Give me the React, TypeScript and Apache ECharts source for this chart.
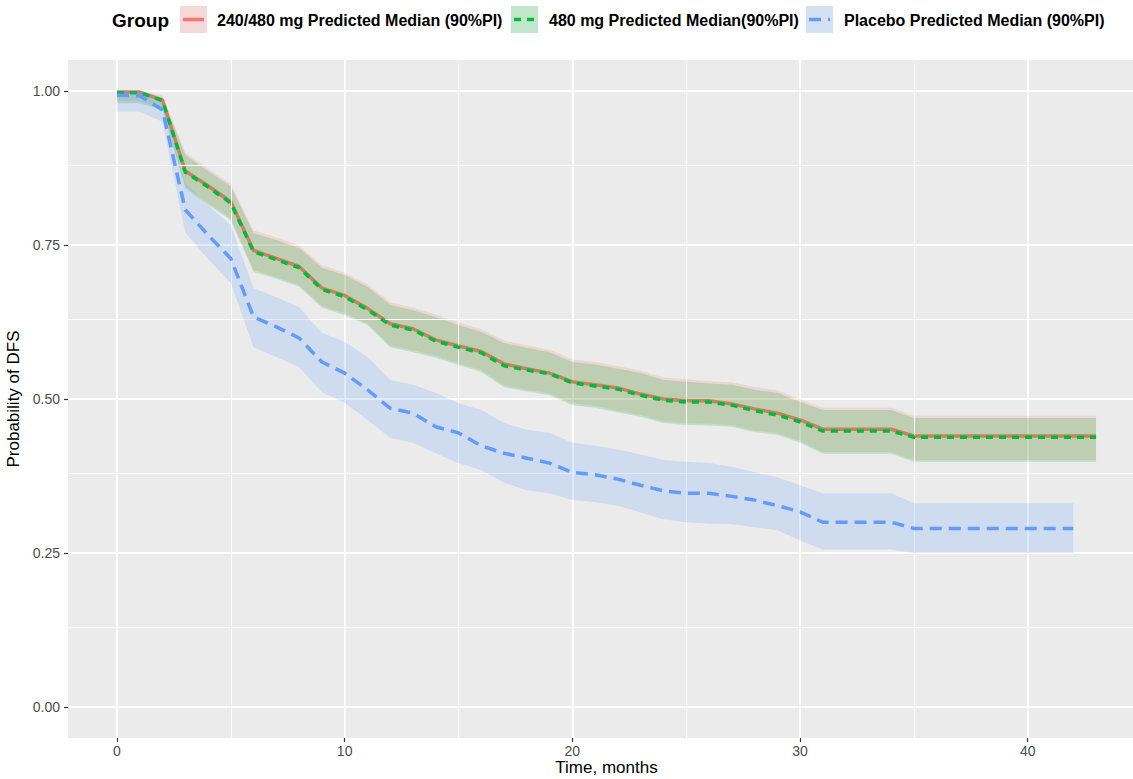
import React, { useEffect, useRef } from "react";
import * as echarts from "echarts";

// ---------- data ----------
const monthsTreat = [0, 1, 2, 3, 4, 5, 6, 7, 8, 9, 10, 11, 12, 13, 14, 15, 16, 17, 18, 19, 20, 21, 22, 23, 24, 25, 26, 27, 28, 29, 30, 31, 32, 33, 34, 35, 36, 37, 38, 39, 40, 41, 42, 43];
const monthsPlacebo = [0, 1, 2, 3, 4, 5, 6, 7, 8, 9, 10, 11, 12, 13, 14, 15, 16, 17, 18, 19, 20, 21, 22, 23, 24, 25, 26, 27, 28, 29, 30, 31, 32, 33, 34, 35, 36, 37, 38, 39, 40, 41, 42];

// 240/480 mg
const comboMedian = [0.998, 0.998, 0.985, 0.870, 0.846, 0.820, 0.741, 0.728, 0.715, 0.680, 0.668, 0.647, 0.622, 0.614, 0.596, 0.586, 0.577, 0.557, 0.549, 0.542, 0.528, 0.523, 0.518, 0.508, 0.500, 0.497, 0.497, 0.492, 0.484, 0.477, 0.466, 0.451, 0.451, 0.451, 0.451, 0.440, 0.440, 0.440, 0.440, 0.440, 0.440, 0.440, 0.440, 0.440];
const comboUpper = [1.000, 1.000, 0.992, 0.900, 0.874, 0.849, 0.773, 0.762, 0.749, 0.717, 0.705, 0.686, 0.657, 0.648, 0.637, 0.624, 0.613, 0.595, 0.587, 0.580, 0.564, 0.560, 0.553, 0.546, 0.535, 0.532, 0.529, 0.527, 0.519, 0.514, 0.499, 0.486, 0.486, 0.486, 0.486, 0.473, 0.473, 0.473, 0.473, 0.473, 0.473, 0.473, 0.473, 0.473];
const comboLower = [0.983, 0.983, 0.972, 0.845, 0.818, 0.793, 0.709, 0.698, 0.685, 0.651, 0.639, 0.623, 0.587, 0.579, 0.570, 0.558, 0.547, 0.522, 0.515, 0.509, 0.493, 0.489, 0.481, 0.474, 0.464, 0.461, 0.460, 0.458, 0.449, 0.445, 0.432, 0.414, 0.414, 0.414, 0.414, 0.401, 0.401, 0.401, 0.401, 0.401, 0.401, 0.401, 0.401, 0.401];

// 480 mg
const highMedian = [0.997, 0.997, 0.984, 0.868, 0.844, 0.818, 0.739, 0.726, 0.713, 0.678, 0.666, 0.645, 0.620, 0.612, 0.594, 0.584, 0.575, 0.554, 0.547, 0.541, 0.526, 0.521, 0.516, 0.506, 0.498, 0.495, 0.495, 0.490, 0.481, 0.474, 0.463, 0.448, 0.448, 0.448, 0.448, 0.438, 0.438, 0.438, 0.438, 0.438, 0.438, 0.438, 0.438, 0.438];
const highUpper = [1.000, 1.000, 0.989, 0.896, 0.870, 0.845, 0.769, 0.758, 0.745, 0.713, 0.701, 0.682, 0.653, 0.644, 0.633, 0.620, 0.609, 0.591, 0.583, 0.576, 0.560, 0.556, 0.549, 0.542, 0.531, 0.528, 0.525, 0.523, 0.515, 0.510, 0.495, 0.482, 0.482, 0.482, 0.482, 0.469, 0.469, 0.469, 0.469, 0.469, 0.469, 0.469, 0.469, 0.469];
const highLower = [0.980, 0.980, 0.969, 0.842, 0.815, 0.790, 0.706, 0.695, 0.682, 0.648, 0.636, 0.620, 0.584, 0.576, 0.567, 0.555, 0.544, 0.519, 0.512, 0.506, 0.490, 0.486, 0.478, 0.471, 0.461, 0.458, 0.457, 0.455, 0.446, 0.442, 0.429, 0.411, 0.411, 0.411, 0.411, 0.398, 0.398, 0.398, 0.398, 0.398, 0.398, 0.398, 0.398, 0.398];

// Placebo
const placeboMedian = [0.993, 0.992, 0.969, 0.807, 0.766, 0.728, 0.633, 0.617, 0.599, 0.560, 0.542, 0.515, 0.485, 0.477, 0.455, 0.445, 0.424, 0.412, 0.404, 0.396, 0.381, 0.377, 0.370, 0.360, 0.351, 0.347, 0.347, 0.342, 0.336, 0.327, 0.317, 0.300, 0.300, 0.300, 0.300, 0.290, 0.290, 0.290, 0.290, 0.290, 0.290, 0.290, 0.290];
const placeboUpper = [0.999, 0.999, 0.980, 0.850, 0.815, 0.782, 0.680, 0.665, 0.649, 0.607, 0.593, 0.568, 0.531, 0.523, 0.510, 0.493, 0.482, 0.461, 0.450, 0.445, 0.429, 0.424, 0.418, 0.410, 0.401, 0.398, 0.396, 0.390, 0.381, 0.373, 0.360, 0.347, 0.347, 0.347, 0.347, 0.331, 0.331, 0.331, 0.331, 0.331, 0.331, 0.331, 0.331];
const placeboLower = [0.966, 0.966, 0.950, 0.770, 0.727, 0.688, 0.584, 0.568, 0.552, 0.511, 0.494, 0.466, 0.437, 0.429, 0.412, 0.396, 0.385, 0.364, 0.352, 0.347, 0.336, 0.333, 0.327, 0.316, 0.305, 0.300, 0.298, 0.297, 0.292, 0.287, 0.271, 0.256, 0.256, 0.256, 0.256, 0.250, 0.250, 0.250, 0.250, 0.250, 0.250, 0.250, 0.250];

const xTicks = [0, 10, 20, 30, 40];
const xMinorTicks = [5, 15, 25, 35];
const yTicks = [0, 0.25, 0.5, 0.75, 1.0];
const yMinorTicks = [0.125, 0.375, 0.625, 0.875];

const groupLabels = [
  "240/480 mg Predicted Median (90%PI)",
  "480 mg Predicted Median(90%PI)",
  "Placebo Predicted Median (90%PI)",
];

// ---------- style ----------
const FONT = "'Liberation Sans', Arial, Helvetica, sans-serif";
const RED = "#F8766D";
const GREEN = "#00BA38";
const BLUE = "#619CFF";
const RED_FILL = "rgba(248,118,109,0.2)";
const GREEN_FILL = "rgba(0,186,56,0.2)";
const BLUE_FILL = "rgba(97,156,255,0.2)";

function ribbonSeries(name: string, xs: number[], lo: number[], hi: number[], fill: string, z: number) {
  return {
    type: "custom",
    name,
    silent: true,
    clip: true,
    z,
    data: xs.map((x, i) => [x, lo[i], hi[i]]),
    encode: { x: 0, y: [1, 2] },
    renderItem: (params: any, api: any) => {
      if (params.dataIndex !== 0) return null;
      const pts: number[][] = [];
      for (let i = 0; i < xs.length; i++) pts.push(api.coord([xs[i], hi[i]]));
      for (let i = xs.length - 1; i >= 0; i--) pts.push(api.coord([xs[i], lo[i]]));
      return { type: "polygon", shape: { points: pts }, style: { fill, stroke: null } };
    },
  };
}

function lineSeries(name: string, xs: number[], ys: number[], color: string, dash: any, width: number, z: number) {
  return {
    type: "line",
    name,
    z,
    data: xs.map((x, i) => [x, ys[i]]),
    showSymbol: false,
    symbol: "none",
    silent: true,
    lineStyle: { color, width, type: dash, cap: "butt", join: "round" },
  };
}

function legendItem(keyX: number, labelX: number, label: string, fill: string, color: string, dash: number[] | null) {
  return [
    { type: "rect", shape: { x: keyX, y: 6, width: 27, height: 27 }, style: { fill: "#F2F2F2" } },
    { type: "rect", shape: { x: keyX, y: 6, width: 27, height: 27 }, style: { fill } },
    {
      type: "line",
      shape: { x1: keyX + 3, y1: 19.5, x2: keyX + 24, y2: 19.5 },
      style: { stroke: color, lineWidth: 3.5, lineDash: dash || undefined, lineCap: "butt" },
    },
    {
      type: "text",
      x: labelX,
      y: 20,
      style: { text: label, font: `bold 16px ${FONT}`, fill: "#000", verticalAlign: "middle", align: "left" },
    },
  ];
}

export default function App() {
  const ref = useRef<HTMLDivElement>(null);
  useEffect(() => {
    const chart = echarts.init(ref.current!, null, { renderer: "svg" });
    const option: any = {
      animation: false,
      textStyle: { fontFamily: FONT },
      grid: {
        left: 68,
        top: 60,
        right: -12,
        bottom: 41,
        show: true,
        backgroundColor: "#EBEBEB",
        borderWidth: 0,
        containLabel: false,
        outerBoundsMode: "none",
      },
      xAxis: {
        type: "value",
        min: -2.15,
        max: 45.15,
        axisLine: { show: false, onZero: false },
        axisTick: { show: true, length: 4, lineStyle: { color: "#333333", width: 1.2 }, customValues: xTicks },
        axisLabel: { color: "#4D4D4D", fontSize: 14, margin: 6, fontFamily: FONT, customValues: xTicks },
        splitLine: { show: true, lineStyle: { color: "#FFFFFF", width: 2 } },
        name: "Time, months",
        nameLocation: "middle",
        nameGap: 29,
        nameMoveOverlap: false,
        nameTextStyle: { color: "#000", fontSize: 17, fontFamily: FONT, verticalAlign: "middle", lineHeight: 17 },
      },
      yAxis: {
        type: "value",
        min: -0.05,
        max: 1.05,
        axisLine: { show: false, onZero: false },
        axisTick: { show: true, length: 4, lineStyle: { color: "#333333", width: 1.2 }, customValues: yTicks },
        axisLabel: {
          color: "#4D4D4D",
          fontSize: 14,
          margin: 8,
          fontFamily: FONT,
          customValues: yTicks,
          formatter: (v: number) => v.toFixed(2),
        },
        splitLine: { show: true, lineStyle: { color: "#FFFFFF", width: 2 } },
        name: "Probability of DFS",
        nameLocation: "middle",
        nameGap: 44,
        nameRotate: 90,
        nameTextStyle: { color: "#000", fontSize: 17, fontFamily: FONT },
      },
      graphic: [
        {
          type: "text",
          x: 112,
          y: 20,
          style: { text: "Group", font: `bold 19px ${FONT}`, fill: "#000", verticalAlign: "middle" },
        },
        ...legendItem(180, 217, groupLabels[0], RED_FILL, RED, null),
        ...legendItem(511, 549, groupLabels[1], GREEN_FILL, GREEN, [7, 6]),
        ...legendItem(806, 844, groupLabels[2], BLUE_FILL, BLUE, [12, 7]),
      ],
      series: [
        {
          type: "line",
          data: [],
          z: 1,
          silent: true,
          markLine: {
            silent: true,
            symbol: ["none", "none"],
            label: { show: false },
            lineStyle: { color: "#FFFFFF", width: 1, type: "solid" },
            data: [
              ...xMinorTicks.map((v) => ({ xAxis: v })),
              ...yMinorTicks.map((v) => ({ yAxis: v })),
            ],
          },
        },
        lineSeries(groupLabels[0], monthsTreat, comboMedian, RED, "solid", 3.5, 2),
        ribbonSeries(groupLabels[0] + " PI", monthsTreat, comboLower, comboUpper, RED_FILL, 3),
        ribbonSeries(groupLabels[1] + " PI", monthsTreat, highLower, highUpper, GREEN_FILL, 4),
        lineSeries(groupLabels[1], monthsTreat, highMedian, GREEN, [7, 6], 3.5, 5),
        ribbonSeries(groupLabels[2] + " PI", monthsPlacebo, placeboLower, placeboUpper, BLUE_FILL, 6),
        lineSeries(groupLabels[2], monthsPlacebo, placeboMedian, BLUE, [12, 7], 3.5, 7),
      ],
    };
    chart.setOption(option);
    return () => chart.dispose();
  }, []);
  return (
    <div
      ref={ref}
      style={{ position: "fixed", left: 0, top: 0, width: 1133, height: 779, background: "#FFFFFF" }}
    />
  );
}
